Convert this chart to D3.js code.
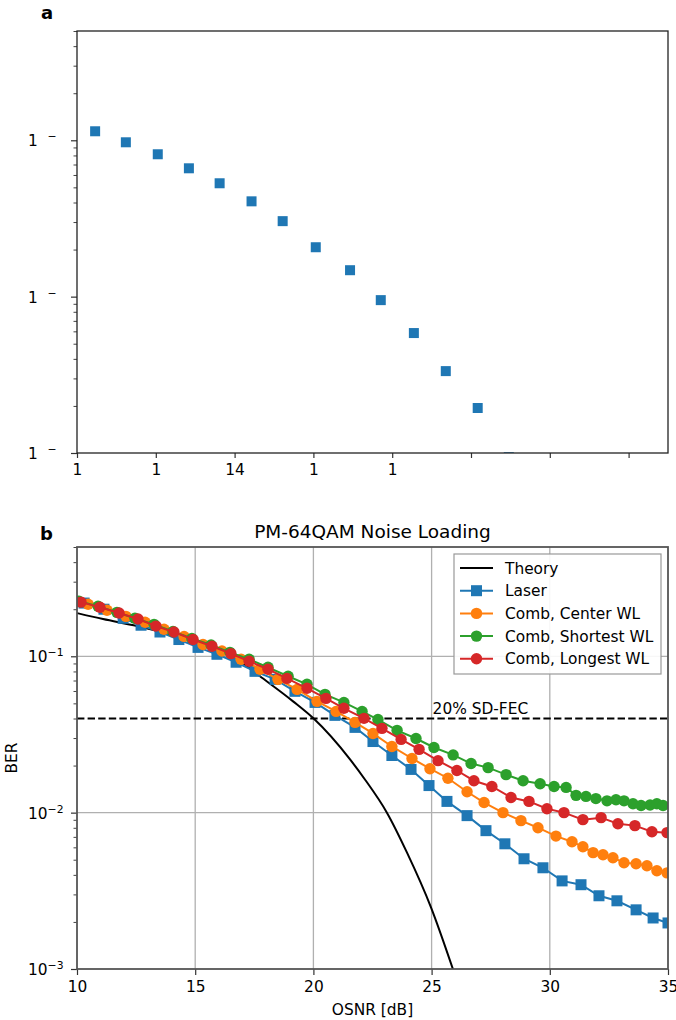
<!DOCTYPE html>
<html><head><meta charset="utf-8">
<script src="https://cdn.jsdelivr.net/npm/d3@7"></script>
<style>
body{margin:0;background:#fff}
svg{display:block}
text{font-family:"DejaVu Sans",sans-serif;fill:#000}
</style>
</head><body>
<svg id="chart" width="676" height="1020"></svg>
<script>
// ---------- data ----------
const panelAOsnr = [10.46,11.24,12.05,12.84,13.62,14.43,15.22,16.06,16.93,17.71,18.55,19.36,20.17,20.96];
const panelABer  = [0.1142,0.0971,0.0814,0.0662,0.0531,0.0407,0.0304,0.0207,0.01476,0.0095,0.00585,0.00334,0.00194,0.00094];
const panelAXTicks = [10,12,14,16,18,20,22,24];
const panelAXTickLabels = ["1","1","14","1","1","","",""];
const yMajorTicks = [1e-3,1e-2,1e-1];
const yTickExponents = ["−3","−2","−1"];

const theoryOsnr = [10,11.10,12.54,13.93,15.33,16.77,17.74,19.14,20.0,21.55,22.18,23.11,23.96,24.97,25.92];
const theoryBer  = [0.189,0.173,0.156,0.138,0.119,0.0957,0.0745,0.0515,0.0401,0.0219,0.0163,0.0100,0.00555,0.00249,0.00098];

const laserOsnr = [10.30,11.14,11.95,12.71,13.51,14.31,15.12,15.92,16.73,17.53,18.38,19.22,20.07,20.91,21.76,22.52,23.32,24.13,24.89,25.65,26.50,27.30,28.10,28.91,29.71,30.52,31.32,32.08,32.84,33.65,34.37,35.0];
const laserBer  = [0.219,0.200,0.175,0.158,0.143,0.128,0.114,0.103,0.0916,0.0801,0.0712,0.0597,0.0507,0.0419,0.0351,0.0285,0.0232,0.0189,0.0149,0.0118,0.00957,0.00767,0.00632,0.00507,0.00444,0.00366,0.00346,0.00294,0.00273,0.00239,0.00212,0.00197];

const centerOsnr = [10.47,11.27,12.07,12.88,13.68,14.53,15.33,16.13,16.94,17.74,18.50,19.31,20.15,20.96,21.76,22.52,23.32,24.17,24.93,25.69,26.50,27.22,28.02,28.78,29.50,30.26,30.94,31.40,31.83,32.25,32.67,33.14,33.65,34.11,34.53,34.96];
const centerBer  = [0.215,0.197,0.180,0.165,0.149,0.134,0.119,0.108,0.0957,0.0826,0.0712,0.0614,0.0515,0.0444,0.0378,0.0321,0.0265,0.0222,0.0191,0.0166,0.0136,0.0116,0.0100,0.00889,0.00801,0.00708,0.00652,0.00605,0.00555,0.00538,0.00515,0.00478,0.00471,0.00457,0.00425,0.00412];

const shortestOsnr = [10.08,10.89,11.69,12.45,13.26,14.06,14.86,15.67,16.47,17.28,18.08,18.93,19.73,20.49,21.29,22.06,22.73,23.54,24.34,25.10,25.91,26.67,27.39,28.15,28.87,29.59,30.18,30.69,31.11,31.53,31.95,32.42,32.80,33.14,33.52,33.86,34.24,34.53,34.79];
const shortestBer  = [0.225,0.209,0.191,0.175,0.160,0.144,0.130,0.118,0.106,0.0957,0.0850,0.0745,0.0662,0.0571,0.0507,0.0444,0.0394,0.0336,0.0298,0.0261,0.0234,0.0206,0.0194,0.0175,0.0160,0.0153,0.0147,0.0145,0.0129,0.0127,0.0123,0.0119,0.0121,0.0119,0.0114,0.0111,0.0112,0.0114,0.0111];

const longestOsnr = [10.17,10.97,11.78,12.58,13.34,14.10,14.91,15.71,16.51,17.28,18.08,18.88,19.73,20.53,21.29,22.14,22.90,23.71,24.47,25.27,26.07,26.79,27.55,28.36,29.12,29.88,30.60,31.40,32.17,32.88,33.60,34.32,34.96];
const longestBer  = [0.222,0.206,0.189,0.173,0.156,0.143,0.128,0.116,0.104,0.0929,0.0826,0.0722,0.0624,0.0538,0.0465,0.0401,0.0346,0.0294,0.0254,0.0215,0.0186,0.0160,0.0147,0.0125,0.0118,0.0106,0.0100,0.00902,0.00929,0.00850,0.00826,0.00755,0.00745];

const panelBXTicks = [10,15,20,25,30,35];
const fecLevel = 0.04;
const fecLabel = "20% SD-FEC";
const seriesNames = ["Theory","Laser","Comb, Center WL","Comb, Shortest WL","Comb, Longest WL"];
const seriesColors = ["#000000","#1f77b4","#ff7f0e","#2ca02c","#d62728"];
const seriesMarkers = [null,"square","circle","circle","circle"];

// ---------- layout ----------
const FS = 15.4, FSUP = 10.8, FTITLE = 18.5;
const svg = d3.select("#chart");
const L = 77, R = 668;
const A = {top:31, bottom:453};
const B = {top:547, bottom:969};

function yTicksMinor(y){
  return y.ticks().filter(v => !yMajorTicks.some(m => Math.abs(m - v) / m < 1e-6));
}

// ---------- panel a ----------
(function(){
  const x = d3.scaleLinear().domain([10,25]).range([L,R]);
  const y = d3.scaleLog().domain([1e-3,0.5]).range([A.bottom,A.top]);
  const g = svg.append("g");
  g.append("clipPath").attr("id","clipA").append("rect")
    .attr("x",L).attr("y",A.top).attr("width",R-L).attr("height",A.bottom-A.top);

  g.append("g").attr("clip-path","url(#clipA)")
    .selectAll("rect.pt").data(panelAOsnr.map((d,i)=>[d,panelABer[i]])).join("rect")
    .attr("x",d=>x(d[0])-5).attr("y",d=>y(d[1])-5).attr("width",10).attr("height",10)
    .attr("fill","#1f77b4");

  const xa = g.append("g").attr("transform",`translate(0,${A.bottom})`)
    .call(d3.axisBottom(x).tickValues(panelAXTicks).tickSize(5).tickPadding(6)
      .tickFormat((d,i)=>panelAXTickLabels[i]));
  xa.select(".domain").remove();
  xa.selectAll("line").attr("stroke","#333").attr("stroke-width",1.2);
  xa.selectAll("text").attr("font-size",FS).attr("font-family","DejaVu Sans").attr("fill","#000");

  const ym = g.append("g").attr("transform",`translate(${L},0)`)
    .call(d3.axisLeft(y).tickValues(yTicksMinor(y)).tickSize(3.5).tickFormat(""));
  ym.select(".domain").remove();
  ym.selectAll("line").attr("stroke","#444").attr("stroke-width",1);
  const ya = g.append("g").attr("transform",`translate(${L},0)`)
    .call(d3.axisLeft(y).tickValues(yMajorTicks).tickSize(6).tickFormat(""));
  ya.select(".domain").remove();
  ya.selectAll("line").attr("stroke","#333").attr("stroke-width",1.2);
  ya.selectAll(".tick").each(function(){
    const t = d3.select(this).append("text").attr("x",-49).attr("y",5.5)
      .attr("text-anchor","start").attr("font-size",FS);
    t.append("tspan").attr("x",-49).text("1");
    t.append("tspan").attr("x",-49 + 2*0.636*FS).attr("dy",-6).attr("font-size",FSUP).text("−");
  });

  g.append("rect").attr("x",L).attr("y",A.top).attr("width",R-L).attr("height",A.bottom-A.top)
    .attr("fill","none").attr("stroke","#222").attr("stroke-width",1.3);

  svg.append("text").attr("x",41).attr("y",19).attr("font-size",18).attr("font-weight","bold").text("a");
})();

// ---------- panel b ----------
(function(){
  const x = d3.scaleLinear().domain([10,35]).range([L,R]);
  const y = d3.scaleLog().domain([1e-3,0.5]).range([B.bottom,B.top]);
  const g = svg.append("g");
  g.append("clipPath").attr("id","clipB").append("rect")
    .attr("x",L).attr("y",B.top).attr("width",R-L).attr("height",B.bottom-B.top);

  g.append("g").selectAll("line.gx").data(panelBXTicks.filter(v=>v>10&&v<35)).join("line")
    .attr("x1",d=>x(d)).attr("x2",d=>x(d)).attr("y1",B.top).attr("y2",B.bottom)
    .attr("stroke","#b0b0b0").attr("stroke-width",1.3);
  g.append("g").selectAll("line.gy").data(yMajorTicks.filter(v=>v>1e-3)).join("line")
    .attr("x1",L).attr("x2",R).attr("y1",d=>y(d)).attr("y2",d=>y(d))
    .attr("stroke","#b0b0b0").attr("stroke-width",1.3);

  const plot = g.append("g").attr("clip-path","url(#clipB)");

  plot.append("line").attr("x1",L).attr("x2",R).attr("y1",y(fecLevel)).attr("y2",y(fecLevel))
    .attr("stroke","#000").attr("stroke-width",2).attr("stroke-dasharray","7.4,3.2");

  const series = [
    [theoryOsnr,theoryBer],[laserOsnr,laserBer],[centerOsnr,centerBer],
    [shortestOsnr,shortestBer],[longestOsnr,longestBer]
  ];
  series.forEach((s,i)=>{
    const pts = s[0].map((d,j)=>[d,s[1][j]]);
    const line = d3.line().x(d=>x(d[0])).y(d=>y(d[1]));
    if(i===0) line.curve(d3.curveMonotoneX);
    plot.append("path").datum(pts).attr("d",line).attr("fill","none")
      .attr("stroke",seriesColors[i]).attr("stroke-width",2);
    if(seriesMarkers[i]==="square"){
      plot.append("g").selectAll("rect").data(pts).join("rect")
        .attr("x",d=>x(d[0])-5.5).attr("y",d=>y(d[1])-5.5).attr("width",11).attr("height",11)
        .attr("fill",seriesColors[i]);
    } else if(seriesMarkers[i]==="circle"){
      plot.append("g").selectAll("circle").data(pts).join("circle")
        .attr("cx",d=>x(d[0])).attr("cy",d=>y(d[1])).attr("r",5.7)
        .attr("fill",seriesColors[i]);
    }
  });

  g.append("text").attr("x",x(25)+1).attr("y",y(fecLevel)-5).attr("font-size",FS).text(fecLabel);

  const xa = g.append("g").attr("transform",`translate(0,${B.bottom})`)
    .call(d3.axisBottom(x).tickValues(panelBXTicks).tickSize(6).tickPadding(6).tickFormat(d3.format("d")));
  xa.select(".domain").remove();
  xa.selectAll("line").attr("stroke","#333").attr("stroke-width",1.2);
  xa.selectAll("text").attr("font-size",FS).attr("font-family","DejaVu Sans").attr("fill","#000");

  const ym = g.append("g").attr("transform",`translate(${L},0)`)
    .call(d3.axisLeft(y).tickValues(yTicksMinor(y)).tickSize(3.5).tickFormat(""));
  ym.select(".domain").remove();
  ym.selectAll("line").attr("stroke","#444").attr("stroke-width",1);
  const ya = g.append("g").attr("transform",`translate(${L},0)`)
    .call(d3.axisLeft(y).tickValues(yMajorTicks).tickSize(6).tickFormat(""));
  ya.select(".domain").remove();
  ya.selectAll("line").attr("stroke","#333").attr("stroke-width",1.2);
  ya.selectAll(".tick").each(function(d,i){
    const t = d3.select(this).append("text").attr("x",-49).attr("y",5.5)
      .attr("text-anchor","start").attr("font-size",FS);
    t.append("tspan").text("10");
    t.append("tspan").attr("dy",-6).attr("font-size",FSUP).text(yTickExponents[i]);
  });

  g.append("rect").attr("x",L).attr("y",B.top).attr("width",R-L).attr("height",B.bottom-B.top)
    .attr("fill","none").attr("stroke","#555").attr("stroke-width",1.8);

  const lg = g.append("g");
  const lx = 454, ly = 554, lw = 207, lh = 120;
  lg.append("rect").attr("x",lx).attr("y",ly).attr("width",lw).attr("height",lh)
    .attr("fill","#fff").attr("fill-opacity",0.9).attr("stroke","#999").attr("stroke-width",1.2);
  seriesNames.forEach((nm,i)=>{
    const cy = ly + 14 + i*22.7;
    lg.append("line").attr("x1",lx+6).attr("x2",lx+39).attr("y1",cy).attr("y2",cy)
      .attr("stroke",seriesColors[i]).attr("stroke-width",2);
    if(seriesMarkers[i]==="square"){
      lg.append("rect").attr("x",lx+22.5-5.5).attr("y",cy-5.5).attr("width",11).attr("height",11).attr("fill",seriesColors[i]);
    } else if(seriesMarkers[i]==="circle"){
      lg.append("circle").attr("cx",lx+22.5).attr("cy",cy).attr("r",5.7).attr("fill",seriesColors[i]);
    }
    lg.append("text").attr("x",lx+51).attr("y",cy+5.5).attr("font-size",FS).text(nm);
  });

  svg.append("text").attr("x",(L+R)/2).attr("y",538).attr("text-anchor","middle")
    .attr("font-size",FTITLE).text("PM-64QAM Noise Loading");
  svg.append("text").attr("x",40).attr("y",540).attr("font-size",18).attr("font-weight","bold").text("b");
  svg.append("text").attr("x",(L+R)/2).attr("y",1015).attr("text-anchor","middle")
    .attr("font-size",FS).text("OSNR [dB]");
  svg.append("text").attr("transform",`translate(17,${(B.top+B.bottom)/2}) rotate(-90)`)
    .attr("text-anchor","middle").attr("font-size",FS).text("BER");
})();
</script>
</body></html>
